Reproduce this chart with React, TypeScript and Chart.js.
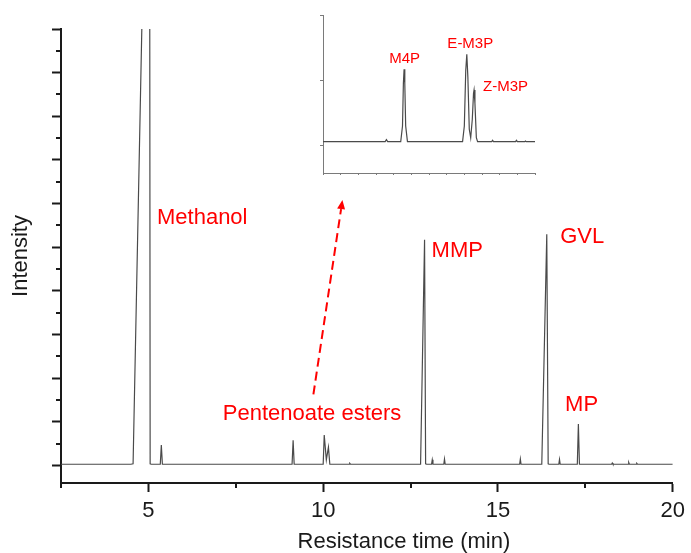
import React, { useEffect, useRef } from 'react';
import { Chart, registerables } from 'chart.js';

Chart.register(...registerables);

// ---------------- data: main chromatogram ----------------
const retentionTime = [
  2.5, 4.5, 4.562, 5.03, 5.05, 5.08, 5.34, 5.37, 5.40,
  9.11, 9.14, 9.17, 10.0, 10.03, 10.09, 10.15, 10.19, 10.74, 10.76, 10.78,
  12.786, 12.90, 12.93, 12.96, 13.10, 13.12, 13.14, 13.45, 13.47, 13.49,
  15.62, 15.64, 15.66, 16.253, 16.396, 16.436, 16.46, 16.74, 16.76, 16.78,
  17.27, 17.30, 17.33, 18.25, 18.27, 18.29, 18.72, 18.74, 18.76, 18.95, 18.97, 18.99, 20,
];
const intensity = [
  0.03, 0.03, 0.04, 18.7, 0.04, 0.03, 0.03, 0.47, 0.03,
  0.03, 0.58, 0.03, 0.03, 0.70, 0.13, 0.42, 0.03, 0.03, 0.05, 0.03,
  0.03, 5.17, 0.04, 0.03, 0.03, 0.13, 0.03, 0.03, 0.15, 0.03,
  0.03, 0.15, 0.03, 0.03, 5.30, 0.04, 0.03, 0.03, 0.14, 0.03,
  0.03, 0.95, 0.03, 0.03, 0.06, 0.03, 0.03, 0.07, 0.03, 0.03, 0.05, 0.03, 0.03,
];

const xTickValues = [2.5, 5, 7.5, 10, 12.5, 15, 17.5, 20];
const xMajorValues = [5, 10, 15, 20];
const yTickValues = [0, 0.5, 1, 1.5, 2, 2.5, 3, 3.5, 4, 4.5, 5, 5.5, 6, 6.5, 7, 7.5, 8, 8.5, 9, 9.5, 10];
const yMajorValues = [0, 1, 2, 3, 4, 5, 6, 7, 8, 9, 10];

const xTitle = 'Resistance time (min)';
const xTitleCenterTime = 12.31;

const peakLabels = ['Methanol', 'MMP', 'GVL', 'MP', 'Pentenoate esters'];
const peakLabelTime = [5.246, 13.10, 16.78, 16.92, 7.128];
const peakLabelIntensity = [5.53, 4.78, 5.10, 1.25, 1.04];
const arrowStart = [9.72, 1.63];
const arrowEnd = [10.55, 6.08];

// ---------------- data: inset ----------------
const insetTime = [
  0, 3.52, 3.59, 3.66, 4.40, 4.50, 4.55, 4.59, 4.63, 4.68, 4.78,
  7.90, 8.00, 8.08, 8.14, 8.20, 8.28, 8.36, 8.45, 8.52, 8.55, 8.60, 8.68, 8.75,
  9.55, 9.60, 9.65, 10.90, 10.95, 11.00, 11.42, 11.46, 11.50, 12,
];
const insetIntensity = [
  0.06, 0.06, 0.09, 0.06, 0.06, 0.30, 0.95, 1.17, 0.95, 0.30, 0.06,
  0.06, 0.30, 1.15, 1.40, 1.05, 0.25, 0.12, 0.40, 0.80, 0.85, 0.65, 0.12, 0.06,
  0.06, 0.08, 0.06, 0.06, 0.08, 0.06, 0.06, 0.07, 0.06, 0.06,
];
const insetTickX = [0, 1, 2, 3, 4, 5, 6, 7, 8, 9, 10, 11, 12];
const insetTickY = [0, 1, 2];
const insetLabels = ['M4P', 'E-M3P', 'Z-M3P'];
const insetLabelTime = [3.75, 7.04, 9.06];
const insetLabelIntensity = [1.262, 1.50, 0.842];

// ---------------- styles ----------------
const FONT = '"Liberation Sans", Arial, Helvetica, sans-serif';
const AXIS_COLOR = '#1a1a1a';
const LINE_COLOR = '#4a4a4a';
const INSET_AXIS = '#7a7a7a';
const RED = '#ff0000';
const CLEAR = 'rgba(0,0,0,0)';

function minorTicksPlugin(xMinor: number[], yMinor: number[], len: number, width: number, color: string) {
  return {
    id: 'minorTicks',
    afterDraw(chart: any) {
      const { ctx, chartArea, scales } = chart;
      ctx.save();
      ctx.strokeStyle = color;
      ctx.lineWidth = width;
      ctx.beginPath();
      xMinor.forEach((v) => {
        const px = Math.round(scales.x.getPixelForValue(v));
        ctx.moveTo(px, Math.round(chartArea.bottom));
        ctx.lineTo(px, Math.round(chartArea.bottom) + len);
      });
      yMinor.forEach((v) => {
        const py = Math.round(scales.y.getPixelForValue(v));
        ctx.moveTo(Math.round(chartArea.left) - len, py);
        ctx.lineTo(Math.round(chartArea.left), py);
      });
      ctx.stroke();
      ctx.restore();
    },
  };
}

function xTitlePlugin(text: string, centerValue: number) {
  return {
    id: 'xTitle',
    afterDraw(chart: any) {
      const { ctx, chartArea, scales } = chart;
      ctx.save();
      ctx.fillStyle = AXIS_COLOR;
      ctx.font = `22px ${FONT}`;
      ctx.textAlign = 'center';
      ctx.textBaseline = 'alphabetic';
      ctx.fillText(text, scales.x.getPixelForValue(centerValue), chartArea.bottom + 65);
      ctx.restore();
    },
  };
}

function labelsPlugin(texts: string[], xs: number[], ys: number[], fontSize: number, arrow?: { from: number[]; to: number[] }) {
  return {
    id: 'peakLabels',
    afterDatasetsDraw(chart: any) {
      const { ctx, scales } = chart;
      ctx.save();
      ctx.fillStyle = RED;
      ctx.font = `${fontSize}px ${FONT}`;
      ctx.textAlign = 'left';
      ctx.textBaseline = 'alphabetic';
      texts.forEach((t, i) => {
        ctx.fillText(t, scales.x.getPixelForValue(xs[i]), scales.y.getPixelForValue(ys[i]));
      });
      if (arrow) {
        const x0 = scales.x.getPixelForValue(arrow.from[0]);
        const y0 = scales.y.getPixelForValue(arrow.from[1]);
        const x1 = scales.x.getPixelForValue(arrow.to[0]);
        const y1 = scales.y.getPixelForValue(arrow.to[1]);
        const ang = Math.atan2(y1 - y0, x1 - x0);
        const headLen = 9;
        const headW = 4;
        const bx = x1 - headLen * Math.cos(ang);
        const by = y1 - headLen * Math.sin(ang);
        ctx.strokeStyle = RED;
        ctx.lineWidth = 2;
        ctx.setLineDash([9, 5]);
        ctx.beginPath();
        ctx.moveTo(x0, y0);
        ctx.lineTo(bx, by);
        ctx.stroke();
        ctx.setLineDash([]);
        ctx.beginPath();
        ctx.moveTo(x1, y1);
        ctx.lineTo(bx + headW * Math.sin(ang), by - headW * Math.cos(ang));
        ctx.lineTo(bx - headW * Math.sin(ang), by + headW * Math.cos(ang));
        ctx.closePath();
        ctx.fill();
      }
      ctx.restore();
    },
  };
}

export default function App() {
  const mainRef = useRef<HTMLCanvasElement>(null);
  const insetRef = useRef<HTMLCanvasElement>(null);

  useEffect(() => {
    const xMinor = xTickValues.filter((v) => !xMajorValues.includes(v));
    const yMinor = yTickValues.filter((v) => !yMajorValues.includes(v));

    const main = new Chart(mainRef.current as HTMLCanvasElement, {
      type: 'line',
      data: {
        datasets: [
          {
            data: retentionTime.map((t, i) => ({ x: t, y: intensity[i] })),
            borderColor: LINE_COLOR,
            borderWidth: 1.2,
            pointRadius: 0,
            tension: 0,
            fill: false,
          },
        ],
      },
      options: {
        animation: false,
        responsive: false,
        maintainAspectRatio: false,
        layout: { padding: { top: 29, right: 17, left: 0, bottom: 0 } },
        plugins: { legend: { display: false }, tooltip: { enabled: false } },
        scales: {
          x: {
            type: 'linear',
            min: 2.5,
            max: 20,
            afterBuildTicks: (s: any) => {
              s.ticks = xTickValues.map((value) => ({ value }));
            },
            afterFit: (s: any) => {
              s.height = 70;
            },
            ticks: {
              autoSkip: false,
              maxRotation: 0,
              padding: 6,
              color: AXIS_COLOR,
              font: { family: FONT, size: 22 },
              callback: (v: any) => (xMajorValues.includes(Number(v)) ? String(v) : ''),
            },
            grid: {
              display: true,
              drawOnChartArea: false,
              drawTicks: true,
              tickLength: 9,
              tickWidth: 2,
              tickColor: (c: any) => (c.tick && xMajorValues.includes(c.tick.value) ? AXIS_COLOR : CLEAR),
            },
            border: { display: true, color: AXIS_COLOR, width: 2 },
            title: { display: false },
          },
          y: {
            type: 'linear',
            min: -0.4,
            max: 10,
            afterBuildTicks: (s: any) => {
              s.ticks = yTickValues.map((value) => ({ value }));
            },
            afterFit: (s: any) => {
              s.width = 61;
            },
            ticks: { display: false },
            grid: {
              display: true,
              drawOnChartArea: false,
              drawTicks: true,
              tickLength: 9,
              tickWidth: 2,
              tickColor: (c: any) => (c.tick && yMajorValues.includes(c.tick.value) ? AXIS_COLOR : CLEAR),
            },
            border: { display: true, color: AXIS_COLOR, width: 2 },
            title: {
              display: true,
              text: 'Intensity',
              color: AXIS_COLOR,
              font: { family: FONT, size: 22, lineHeight: 1 },
              padding: { top: 10, bottom: 0 },
            },
          },
        },
      },
      plugins: [
        minorTicksPlugin(xMinor, yMinor, 5, 2, AXIS_COLOR),
        xTitlePlugin(xTitle, xTitleCenterTime),
        labelsPlugin(peakLabels, peakLabelTime, peakLabelIntensity, 22, { from: arrowStart, to: arrowEnd }),
      ],
    } as any);

    const inset = new Chart(insetRef.current as HTMLCanvasElement, {
      type: 'line',
      data: {
        datasets: [
          {
            data: insetTime.map((t, i) => ({ x: t, y: insetIntensity[i] })),
            borderColor: LINE_COLOR,
            borderWidth: 1.2,
            pointRadius: 0,
            tension: 0,
            fill: false,
          },
        ],
      },
      options: {
        animation: false,
        responsive: false,
        maintainAspectRatio: false,
        layout: { padding: { top: 15, right: 16, left: 0, bottom: 0 } },
        plugins: { legend: { display: false }, tooltip: { enabled: false } },
        scales: {
          x: {
            type: 'linear',
            min: 0,
            max: 12,
            afterBuildTicks: (s: any) => {
              s.ticks = insetTickX.map((value) => ({ value }));
            },
            afterFit: (s: any) => {
              s.height = 12;
            },
            ticks: { display: false },
            grid: {
              display: true,
              drawOnChartArea: false,
              drawTicks: true,
              tickLength: 2,
              tickWidth: 1,
              tickColor: INSET_AXIS,
            },
            border: { display: true, color: INSET_AXIS, width: 1 },
          },
          y: {
            type: 'linear',
            min: -0.42,
            max: 2,
            afterBuildTicks: (s: any) => {
              s.ticks = insetTickY.map((value) => ({ value }));
            },
            afterFit: (s: any) => {
              s.width = 12;
            },
            ticks: { display: false },
            grid: {
              display: true,
              drawOnChartArea: false,
              drawTicks: true,
              tickLength: 3,
              tickWidth: 1,
              tickColor: INSET_AXIS,
            },
            border: { display: true, color: INSET_AXIS, width: 1 },
          },
        },
      },
      plugins: [labelsPlugin(insetLabels, insetLabelTime, insetLabelIntensity, 15)],
    } as any);

    return () => {
      main.destroy();
      inset.destroy();
    };
  }, []);

  return (
    <div style={{ position: 'fixed', left: 0, top: 0, width: 691, height: 553, background: '#fff' }}>
      <canvas ref={mainRef} width={691} height={553} style={{ position: 'absolute', left: 0, top: 0, display: 'block' }} />
      <canvas ref={insetRef} width={240} height={185} style={{ position: 'absolute', left: 311, top: 0, display: 'block' }} />
    </div>
  );
}
